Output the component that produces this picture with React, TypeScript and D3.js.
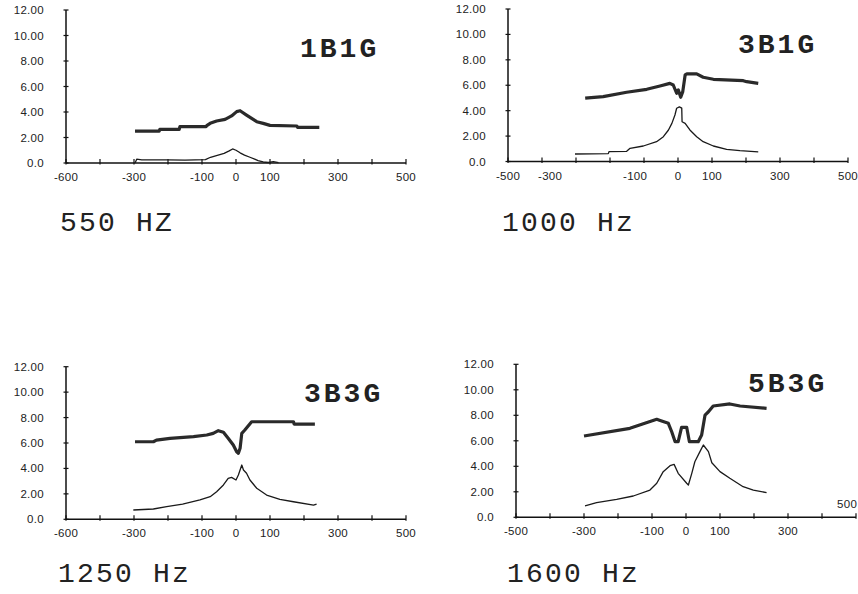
import React from "react";
import * as d3 from "d3";

// ---------- data ----------
const titles = ["1B1G", "3B1G", "3B3G", "5B3G"];
const freqLabels = ["550 HZ", "1000 Hz", "1250 Hz", "1600 Hz"];

const yTicks = [0, 2, 4, 6, 8, 10, 12];
const yTickLabels = ["0.0", "2.00", "4.00", "6.00", "8.00", "10.00", "12.00"];
const xTicks = [-500, -400, -300, -200, -100, 0, 100, 200, 300, 400, 500];

const xLabelPos1 = [-500, -300, -100, 0, 100, 300, 500];
const xLabelText1 = ["-600", "-300", "-100", "0", "100", "300", "500"];
const xLabelPos2 = [-500, -376, -126, 0, 100, 300, 500];
const xLabelText2 = ["-500", "-300", "-100", "0", "100", "300", "500"];
const xLabelPos3 = [-500, -300, -100, 0, 100, 300, 500];
const xLabelText3 = ["-600", "-300", "-100", "0", "100", "300", "500"];
const xLabelPos4 = [-500, -300, -100, 0, 100, 300];
const xLabelText4 = ["-500", "-300", "-100", "0", "100", "300"];

type P = [number, number];

const thick1: P[] = [[-297, 2.5], [-226, 2.5], [-224, 2.64], [-167, 2.64], [-165, 2.85], [-88, 2.85], [-86, 2.93], [-76, 3.11], [-57, 3.29], [-32, 3.42], [-13, 3.69], [2, 4.03], [12, 4.1], [31, 3.76], [46, 3.5], [61, 3.24], [80, 3.11], [100, 2.95], [179, 2.9], [181, 2.8], [245, 2.8]];
const thin1: P[] = [[-297, 0], [-292, 0.3], [-277, 0.25], [-200, 0.25], [-150, 0.22], [-90, 0.27], [-75, 0.45], [-55, 0.6], [-35, 0.75], [-20, 0.95], [-10, 1.1], [0, 1.0], [12, 0.8], [25, 0.62], [41, 0.45], [55, 0.3], [65, 0.18], [80, 0.08], [95, 0.04], [110, 0.1], [125, 0.03]];

const thick2: P[] = [[-273, 4.98], [-220, 5.1], [-151, 5.45], [-92, 5.68], [-53, 5.94], [-24, 6.15], [-14, 6.02], [-4, 5.37], [1, 5.63], [8, 5.05], [14, 5.5], [21, 6.81], [26, 6.89], [55, 6.89], [74, 6.63], [104, 6.47], [192, 6.36], [202, 6.28], [236, 6.15]];
const thin2: P[] = [[-303, 0.59], [-205, 0.62], [-203, 0.77], [-151, 0.8], [-141, 1.04], [-102, 1.22], [-63, 1.56], [-43, 1.95], [-28, 2.48], [-18, 3.0], [-9, 3.66], [-4, 4.19], [4, 4.3], [11, 4.2], [12, 3.13], [21, 3.0], [35, 2.48], [55, 1.95], [74, 1.56], [104, 1.22], [143, 0.96], [182, 0.85], [236, 0.75]];

const thick3: P[] = [[-297, 6.1], [-243, 6.1], [-234, 6.23], [-194, 6.37], [-125, 6.5], [-86, 6.63], [-67, 6.76], [-52, 6.97], [-37, 6.84], [-23, 6.37], [-8, 5.84], [2, 5.31], [7, 5.19], [12, 5.58], [17, 6.76], [26, 7.02], [46, 7.67], [169, 7.67], [171, 7.49], [232, 7.49]];
const thin3: P[] = [[-302, 0.73], [-243, 0.81], [-204, 0.99], [-157, 1.2], [-106, 1.52], [-76, 1.78], [-57, 2.17], [-37, 2.7], [-23, 3.22], [-13, 3.3], [0, 3.09], [7, 3.48], [17, 4.27], [22, 3.88], [31, 3.62], [41, 3.09], [61, 2.44], [90, 1.91], [129, 1.57], [169, 1.38], [228, 1.12], [237, 1.2]];

const thick4: P[] = [[-300, 6.38], [-165, 6.98], [-86, 7.69], [-76, 7.6], [-52, 7.37], [-42, 6.71], [-32, 5.93], [-23, 5.93], [-13, 7.06], [2, 7.06], [10, 5.93], [36, 5.93], [46, 6.45], [56, 8.02], [66, 8.28], [80, 8.73], [129, 8.89], [159, 8.73], [237, 8.55]];
const thin4: P[] = [[-297, 0.89], [-263, 1.15], [-204, 1.41], [-155, 1.67], [-106, 2.14], [-86, 2.67], [-67, 3.58], [-47, 4.05], [-35, 4.15], [-23, 3.45], [2, 2.67], [7, 2.53], [17, 3.45], [26, 4.36], [41, 5.15], [51, 5.67], [66, 5.15], [76, 4.28], [100, 3.58], [129, 3.06], [168, 2.4], [198, 2.14], [237, 1.93]];

// ---------- layout ----------
interface Panel {
  x0: number; x1: number; yB: number; yT: number;
  thick: P[]; thin: P[];
  labelPos: number[]; labelText: string[];
  title: string; tx: number; ty: number;
  freq: string; fx: number; fy: number;
}

const panels: Panel[] = [
  { x0: 66, x1: 406, yB: 163, yT: 10, thick: thick1, thin: thin1, labelPos: xLabelPos1, labelText: xLabelText1, title: titles[0], tx: 300, ty: 57, freq: freqLabels[0], fx: 60, fy: 231 },
  { x0: 508, x1: 848, yB: 161.5, yT: 9, thick: thick2, thin: thin2, labelPos: xLabelPos2, labelText: xLabelText2, title: titles[1], tx: 738, ty: 53, freq: freqLabels[1], fx: 502, fy: 231 },
  { x0: 66, x1: 406, yB: 519.3, yT: 366.7, thick: thick3, thin: thin3, labelPos: xLabelPos3, labelText: xLabelText3, title: titles[2], tx: 304, ty: 402, freq: freqLabels[2], fx: 58, fy: 582 },
  { x0: 516, x1: 856, yB: 517.3, yT: 364.3, thick: thick4, thin: thin4, labelPos: xLabelPos4, labelText: xLabelText4, title: titles[3], tx: 748, ty: 392, freq: freqLabels[3], fx: 507, fy: 582 },
];

const labelFont = "'Liberation Sans', Arial, sans-serif";
const monoFont = "'Courier New', 'Liberation Mono', monospace";

function ChartPanel({ p, extra }: { p: Panel; extra?: boolean }) {
  const x = d3.scaleLinear().domain([-500, 500]).range([p.x0, p.x1]);
  const y = d3.scaleLinear().domain([0, 12]).range([p.yB, p.yT]);
  const line = d3.line<P>().x((d) => x(d[0])).y((d) => y(d[1])).curve(d3.curveLinear);
  return (
    <g>
      {/* axes */}
      <line x1={x(-500)} x2={x(500)} y1={y(0)} y2={y(0)} stroke="#111" strokeWidth={1.5} />
      <line x1={x(-500)} x2={x(-500)} y1={y(0)} y2={y(12)} stroke="#111" strokeWidth={1.5} />
      {xTicks.map((t) => (
        <line key={"xt" + t} x1={x(t)} x2={x(t)} y1={y(0) - 4} y2={y(0) + 1.5} stroke="#111" strokeWidth={1.2} />
      ))}
      {yTicks.map((t) => (
        <line key={"yt" + t} x1={x(-500) - 2.5} x2={x(-500) + 2.5} y1={y(t)} y2={y(t)} stroke="#111" strokeWidth={1.2} />
      ))}
      {yTicks.map((t, i) => (
        <text key={"yl" + t} x={x(-500) - 22} y={y(t) + 4} textAnchor="end" fontFamily={labelFont} fontSize={11.5} letterSpacing={0.3} fill="#222">
          {yTickLabels[i]}
        </text>
      ))}
      {p.labelPos.map((t, i) => (
        <text key={"xl" + i} x={x(t)} y={y(0) + 18} textAnchor="middle" fontFamily={labelFont} fontSize={11.5} letterSpacing={0.3} fill="#222">
          {p.labelText[i]}
        </text>
      ))}
      {extra && (
        <text x={837} y={508} fontFamily={labelFont} fontSize={11.5} letterSpacing={0.3} fill="#222">500</text>
      )}
      <path d={line(p.thin) || ""} fill="none" stroke="#1a1a1a" strokeWidth={1.3} strokeLinejoin="round" />
      <path d={line(p.thick) || ""} fill="none" stroke="#2a2a2a" strokeWidth={3.2} strokeLinejoin="round" />
      <text x={p.tx} y={p.ty} fontFamily={monoFont} fontWeight="bold" fontSize={28} letterSpacing={3} fill="#222">
        {p.title}
      </text>
      <text x={p.fx} y={p.fy} fontFamily={monoFont} fontSize={28} letterSpacing={2.2} fill="#222">
        {p.freq}
      </text>
    </g>
  );
}

export default function App() {
  return (
    <div style={{ position: "absolute", left: 0, top: 0, width: 858, height: 594, background: "#fff" }}>
      <svg width={858} height={594} style={{ display: "block" }}>
        <rect x={0} y={0} width={858} height={594} fill="#fff" />
        {panels.map((p, i) => (
          <ChartPanel key={i} p={p} extra={i === 3} />
        ))}
      </svg>
    </div>
  );
}
